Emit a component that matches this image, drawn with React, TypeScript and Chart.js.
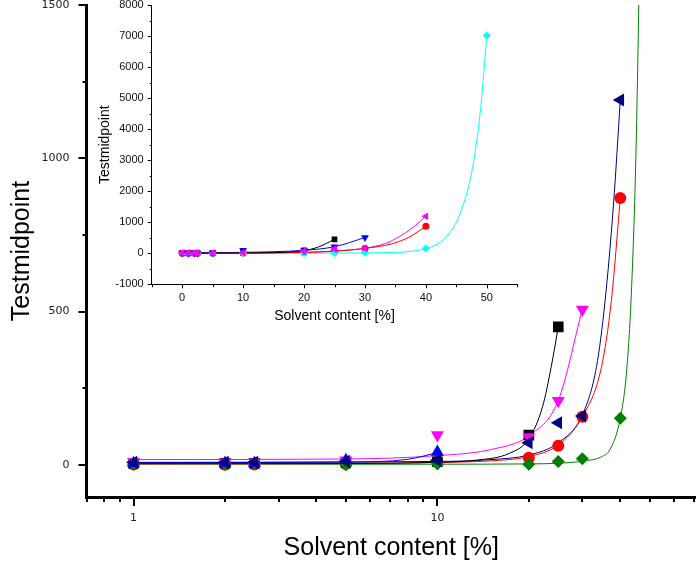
import React, { useEffect, useRef } from "react";
import { Chart, registerables } from "chart.js";

Chart.register(...registerables);

// ---------- data ----------
const solventX = [0, 1, 2, 2.5, 5, 10, 20, 25, 30, 40, 50];

const squareVals = [3, 5, 5, 5, 8, 10, 97, 450, null, null, null];
const circleVals = [0, 1, 0, 1, 3, 10, 23, 62, 157, 870, null];
const upTriVals = [null, 5, 6, 5, 15, 42, null, null, null, null, null];
const downTriVals = [8, 10, 8, 8, 15, 97, 91, 209, 507, null, null];
const leftTriVals = [8, 8, 8, 8, 12, 15, 72, 137, 159, 1190, null];
const diamondVals = [0, 2, 3, 5, 0, 3, 2, 11, 20, 152, 7020];

// fitted curves
const squareFitX = [0, 1, 5, 10, 13.4, 17.3, 20, 22.2, 23.7, 25];
const squareFitY = [5, 5, 5, 8, 15, 38, 85, 190, 320, 450];
const circleFitX = [0, 1, 5, 10, 15, 20, 25, 30, 34.7, 37.4, 40];
const circleFitY = [3, 3, 4, 8, 13, 27, 65, 157, 320, 537, 870];
const upTriFitX = [1, 5, 8, 10];
const upTriFitY = [7, 9, 18, 40];
const downTriFitX = [0, 1, 5, 10, 15, 20, 25, 30];
const downTriFitY = [17, 17, 19, 30, 50, 95, 210, 507];
const leftTriFitX = [0, 1, 10, 15, 20, 25, 30, 33.4, 35.6, 38, 40];
const leftTriFitY = [8, 8, 11, 17, 32, 72, 163, 320, 530, 850, 1190];
const diamondFitX = [0, 1, 10, 20, 25, 30, 35, 37, 40, 42, 43.5, 45, 46.1, 47, 48, 49, 50];
const diamondFitY = [2, 2, 2, 3, 5, 12, 28, 50, 152, 310, 560, 1000, 1550, 2150, 3150, 4700, 7020];

// axes
const mainXTicks = [0.7, 0.8, 0.9, 1, 2, 3, 4, 5, 6, 7, 8, 9, 10, 20, 30, 40, 50, 60, 70];
const mainXLabels = [1, 10];
const mainYTicks = [0, 250, 500, 750, 1000, 1250, 1500];
const mainYLabels = [0, 500, 1000, 1500];
const insetXTicks = [-5, 0, 5, 10, 15, 20, 25, 30, 35, 40, 45, 50, 55];
const insetXLabels = [0, 10, 20, 30, 40, 50];
const insetYTicks = [-1000, -500, 0, 500, 1000, 1500, 2000, 2500, 3000, 3500, 4000, 4500, 5000, 5500, 6000, 6500, 7000, 7500, 8000];
const insetYLabels = [-1000, 0, 1000, 2000, 3000, 4000, 5000, 6000, 7000, 8000];

const xTitle = "Solvent content [%]";
const yTitle = "Testmidpoint";

// ---------- helpers ----------
type P = { x: number; y: number };
function pts(xs: number[], ys: (number | null)[], positiveOnly: boolean): P[] {
  const out: P[] = [];
  xs.forEach((x, i) => {
    const y = ys[i];
    if (y === null || y === undefined) return;
    if (positiveOnly && x <= 0) return;
    out.push({ x, y });
  });
  return out;
}

function markerSet(data: P[], color: string, style: string, radius: number, rotation = 0) {
  return {
    data,
    showLine: false,
    pointStyle: style,
    pointRadius: radius,
    pointHoverRadius: radius,
    pointRotation: rotation,
    pointBackgroundColor: color,
    pointBorderColor: color,
    pointBorderWidth: 0,
    borderColor: color,
    backgroundColor: color,
  };
}

function curveSet(data: P[], color: string, width = 1) {
  return {
    data,
    showLine: true,
    pointRadius: 0,
    pointHoverRadius: 0,
    borderColor: color,
    backgroundColor: color,
    borderWidth: width,
    cubicInterpolationMode: "monotone",
    fill: false,
  };
}

type TickSpec = { axis: string; values: number[]; majors: number[]; majorLen: number; minorLen: number; width: number };
function tickPlugin(id: string, specs: TickSpec[]) {
  return {
    id,
    afterDraw(chart: any) {
      const ctx = chart.ctx;
      const area = chart.chartArea;
      ctx.save();
      ctx.strokeStyle = "#000";
      for (const s of specs) {
        const scale = chart.scales[s.axis];
        ctx.lineWidth = s.width;
        ctx.beginPath();
        for (const v of s.values) {
          const p = Math.round(scale.getPixelForValue(v)) + (s.width % 2 ? 0.5 : 0);
          const len = s.majors.includes(v) ? s.majorLen : s.minorLen;
          if (scale.isHorizontal()) {
            ctx.moveTo(p, area.bottom);
            ctx.lineTo(p, area.bottom + len);
          } else {
            ctx.moveTo(area.left - len, p);
            ctx.lineTo(area.left, p);
          }
        }
        ctx.stroke();
      }
      ctx.restore();
    },
  };
}

const SANS = "'Liberation Sans', Arial, sans-serif";
const DEJAVU = "'DejaVu Sans', Verdana, sans-serif";

export default function App() {
  const mainRef = useRef<HTMLCanvasElement>(null);
  const insetRef = useRef<HTMLCanvasElement>(null);

  useEffect(() => {
    // ---------- main chart (log x) ----------
    const mainChart = new Chart(mainRef.current as HTMLCanvasElement, {
      type: "scatter",
      data: {
        datasets: [
          markerSet(pts(solventX, leftTriVals, true), "#000080", "triangle", 7.5, -90),
          markerSet(pts(solventX, upTriVals, true), "#0000ff", "triangle", 7.5),
          markerSet(pts(solventX, diamondVals, true), "#008000", "rectRot", 6.5),
          markerSet(pts(solventX, downTriVals, true), "#ff00ff", "triangle", 7.5, 180),
          markerSet(pts(solventX, squareVals, true), "#000000", "rect", 7.5),
          markerSet(pts(solventX, circleVals, true), "#ff0000", "circle", 6),
          curveSet(pts(squareFitX, squareFitY, true), "#000000"),
          curveSet(pts(circleFitX, circleFitY, true), "#ff0000"),
          curveSet(pts(upTriFitX, upTriFitY, true), "#0000ff"),
          curveSet(pts(downTriFitX, downTriFitY, true), "#ff00ff"),
          curveSet(pts(leftTriFitX, leftTriFitY, true), "#000080"),
          curveSet(pts(diamondFitX, diamondFitY, true), "#008000"),
        ] as any,
      },
      options: {
        animation: false,
        responsive: false,
        maintainAspectRatio: false,
        devicePixelRatio: 1,
        events: [],
        layout: { autoPadding: false, padding: { top: 5, right: 0, left: 0, bottom: 0 } },
        plugins: { legend: { display: false }, tooltip: { enabled: false } },
        scales: {
          x: {
            type: "logarithmic",
            min: 0.7,
            max: 71,
            afterBuildTicks: (scale: any) => {
              scale.ticks = mainXTicks.map((v) => ({ value: v }));
            },
            afterFit: (scale: any) => {
              scale.height = 65;
              scale.paddingLeft = 0;
              scale.paddingRight = 0;
            },
            grid: { display: true, drawOnChartArea: false, drawTicks: true, tickLength: 9, color: "rgba(0,0,0,0)" },
            border: { display: true, width: 3, color: "#000" },
            ticks: {
              autoSkip: false,
              maxRotation: 0,
              minRotation: 0,
              padding: 6,
              color: "#222",
              font: { family: DEJAVU, size: 11 },
              callback: (v: any) => (mainXLabels.includes(Number(v)) ? String(v) : ""),
            },
            title: {
              display: true,
              text: xTitle,
              color: "#000",
              font: { family: SANS, size: 25, lineHeight: 1 },
              padding: { top: 0, bottom: 1.5 },
            },
          },
          y: {
            type: "linear",
            min: -105,
            max: 1500,
            afterBuildTicks: (scale: any) => {
              scale.ticks = mainYTicks.map((v) => ({ value: v }));
            },
            afterFit: (scale: any) => {
              scale.width = 86.5;
              scale.paddingTop = 0;
              scale.paddingBottom = 0;
            },
            grid: { display: true, drawOnChartArea: false, drawTicks: true, tickLength: 8, color: "rgba(0,0,0,0)" },
            border: { display: true, width: 3, color: "#000" },
            ticks: {
              autoSkip: false,
              padding: 9,
              color: "#222",
              font: { family: DEJAVU, size: 11 },
              callback: (v: any) => (mainYLabels.includes(Number(v)) ? String(v) : ""),
            },
            title: {
              display: true,
              text: yTitle,
              color: "#000",
              font: { family: SANS, size: 25, lineHeight: 1 },
              padding: { top: 10, bottom: 0 },
            },
          },
        },
      } as any,
      plugins: [
        tickPlugin("mainTicks", [
          { axis: "x", values: mainXTicks, majors: mainXLabels, majorLen: 9, minorLen: 5, width: 2 },
          { axis: "y", values: mainYTicks, majors: mainYLabels, majorLen: 8, minorLen: 4, width: 2 },
        ]),
      ] as any,
    });

    // ---------- inset chart (linear x) ----------
    const insetChart = new Chart(insetRef.current as HTMLCanvasElement, {
      type: "scatter",
      data: {
        datasets: [
          markerSet(pts(solventX, leftTriVals, false), "#ff00ff", "triangle", 4.5, -90),
          markerSet(pts(solventX, downTriVals, false), "#0000ff", "triangle", 4.5, 180),
          markerSet(pts(solventX, diamondVals, false), "#00ffff", "rectRot", 4),
          markerSet(pts(solventX, circleVals, false), "#ff0000", "circle", 3.5),
          markerSet(pts(solventX, squareVals, false), "#000000", "rect", 4),
          curveSet(pts(squareFitX, squareFitY, false), "#000000"),
          curveSet(pts(circleFitX, circleFitY, false), "#ff0000"),
          curveSet(pts(downTriFitX, downTriFitY, false), "#0000ff"),
          curveSet(pts(leftTriFitX, leftTriFitY, false), "#ff00ff"),
          curveSet(pts(diamondFitX, diamondFitY, false), "#00ffff"),
        ] as any,
      },
      options: {
        animation: false,
        responsive: false,
        maintainAspectRatio: false,
        devicePixelRatio: 1,
        events: [],
        layout: { autoPadding: false, padding: { top: 5, right: 12.7, left: 0, bottom: 0 } },
        plugins: { legend: { display: false }, tooltip: { enabled: false } },
        scales: {
          x: {
            type: "linear",
            min: -5,
            max: 55,
            afterBuildTicks: (scale: any) => {
              scale.ticks = insetXTicks.map((v) => ({ value: v }));
            },
            afterFit: (scale: any) => {
              scale.height = 45.7;
              scale.paddingLeft = 0;
              scale.paddingRight = 0;
            },
            grid: { display: true, drawOnChartArea: false, drawTicks: true, tickLength: 4, color: "rgba(0,0,0,0)" },
            border: { display: true, width: 1, color: "#000" },
            ticks: {
              autoSkip: false,
              maxRotation: 0,
              minRotation: 0,
              padding: 3,
              color: "#111",
              font: { family: SANS, size: 11 },
              callback: (v: any) => (insetXLabels.includes(Number(v)) ? String(v) : ""),
            },
            title: {
              display: true,
              text: xTitle,
              color: "#000",
              font: { family: SANS, size: 14, lineHeight: 1 },
              padding: { top: 0, bottom: 7 },
            },
          },
          y: {
            type: "linear",
            min: -1000,
            max: 8000,
            afterBuildTicks: (scale: any) => {
              scale.ticks = insetYTicks.map((v) => ({ value: v }));
            },
            afterFit: (scale: any) => {
              scale.width = 71.7;
              scale.paddingTop = 0;
              scale.paddingBottom = 0;
            },
            grid: { display: true, drawOnChartArea: false, drawTicks: true, tickLength: 4, color: "rgba(0,0,0,0)" },
            border: { display: true, width: 1, color: "#000" },
            ticks: {
              autoSkip: false,
              padding: 4,
              color: "#111",
              font: { family: SANS, size: 11 },
              callback: (v: any) => (insetYLabels.includes(Number(v)) ? String(v) : ""),
            },
            title: {
              display: true,
              text: yTitle,
              color: "#000",
              font: { family: SANS, size: 14, lineHeight: 1 },
              padding: { top: 18, bottom: 0 },
            },
          },
        },
      } as any,
      plugins: [
        tickPlugin("insetTicks", [
          { axis: "x", values: insetXTicks, majors: insetXLabels, majorLen: 4, minorLen: 3, width: 1 },
          { axis: "y", values: insetYTicks, majors: insetYLabels, majorLen: 4, minorLen: 2, width: 1 },
        ]),
      ] as any,
    });

    return () => {
      mainChart.destroy();
      insetChart.destroy();
    };
  }, []);

  return (
    <div style={{ position: "fixed", left: 0, top: 0, width: 696, height: 562, background: "#fff" }}>
      <canvas ref={mainRef} width={696} height={562} style={{ position: "absolute", left: 0, top: 0, width: 696, height: 562 }} />
      <canvas ref={insetRef} width={450} height={330} style={{ position: "absolute", left: 80, top: 0, width: 450, height: 330 }} />
    </div>
  );
}
